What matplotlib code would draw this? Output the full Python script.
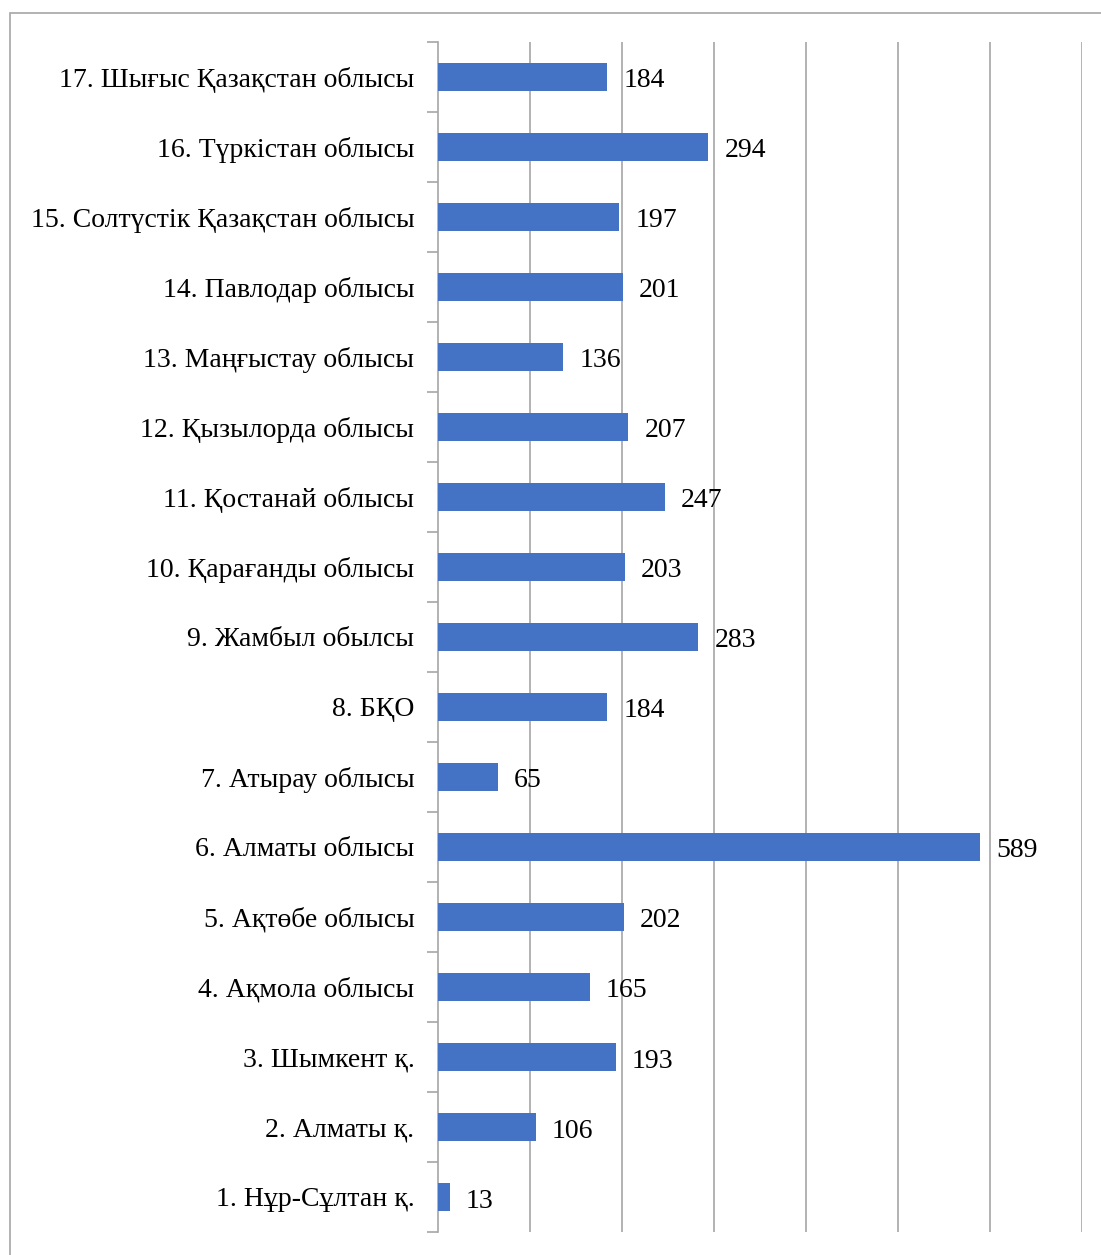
import matplotlib
matplotlib.use("Agg")
import matplotlib.pyplot as plt
from matplotlib.patches import Rectangle
from matplotlib.ticker import FixedLocator

categories = [
    "1. Нұр-Сұлтан қ.",
    "2. Алматы қ.",
    "3. Шымкент қ.",
    "4. Ақмола облысы",
    "5. Ақтөбе облысы",
    "6. Алматы облысы",
    "7. Атырау облысы",
    "8. БҚО",
    "9. Жамбыл обылсы",
    "10. Қарағанды облысы",
    "11. Қостанай облысы",
    "12. Қызылорда облысы",
    "13. Маңғыстау облысы",
    "14. Павлодар облысы",
    "15. Солтүстік Қазақстан облысы",
    "16. Түркістан облысы",
    "17. Шығыс Қазақстан облысы",
]
values = [13, 106, 193, 165, 202, 589, 65, 184, 283, 203, 247, 207, 136, 201, 197, 294, 184]

plt.rcParams['font.family'] = ['Liberation Serif', 'DejaVu Serif']

W, H = 1101, 1255
fig = plt.figure(figsize=(W / 100, H / 100), dpi=100)

# outer frame (left and top edges visible)
fig.patches.append(Rectangle((10 / W, -0.1), 1.2, 1.1 - 13 / H, transform=fig.transFigure,
                             fill=False, edgecolor='#a6a6a6', linewidth=1.2))

ax = fig.add_axes([438 / W, 1 - 1232 / H, (1082 - 438) / W, (1232 - 42) / H])
y = list(range(len(categories)))
ax.barh(y, values, height=0.4, color='#4472C4', zorder=3)
ax.set_xlim(0, 700)
ax.set_ylim(-0.5, len(categories) - 0.5)

ax.set_yticks(y)
ax.set_yticklabels(categories, fontsize=20)
ax.yaxis.set_minor_locator(FixedLocator([i - 0.5 for i in range(len(categories) + 1)]))
ax.tick_params(axis='y', which='major', length=0, pad=17)
ax.tick_params(axis='y', which='minor', length=8, color='#a6a6a6', width=1.2)

ax.set_xticks([100, 200, 300, 400, 500, 600, 700])
ax.set_xticklabels([])
ax.tick_params(axis='x', length=0)
ax.grid(axis='x', color='#a6a6a6', linewidth=1.2, zorder=0)

for s in ['top', 'right', 'bottom']:
    ax.spines[s].set_visible(False)
ax.spines['left'].set_color('#a6a6a6')
ax.spines['left'].set_linewidth(1.2)

for yi, v in zip(y, values):
    ax.annotate(str(v), (v, yi), xytext=(16, -1), textcoords='offset pixels',
                va='center_baseline', ha='left', fontsize=20, zorder=4)

fig.savefig('out.png', dpi=100)
